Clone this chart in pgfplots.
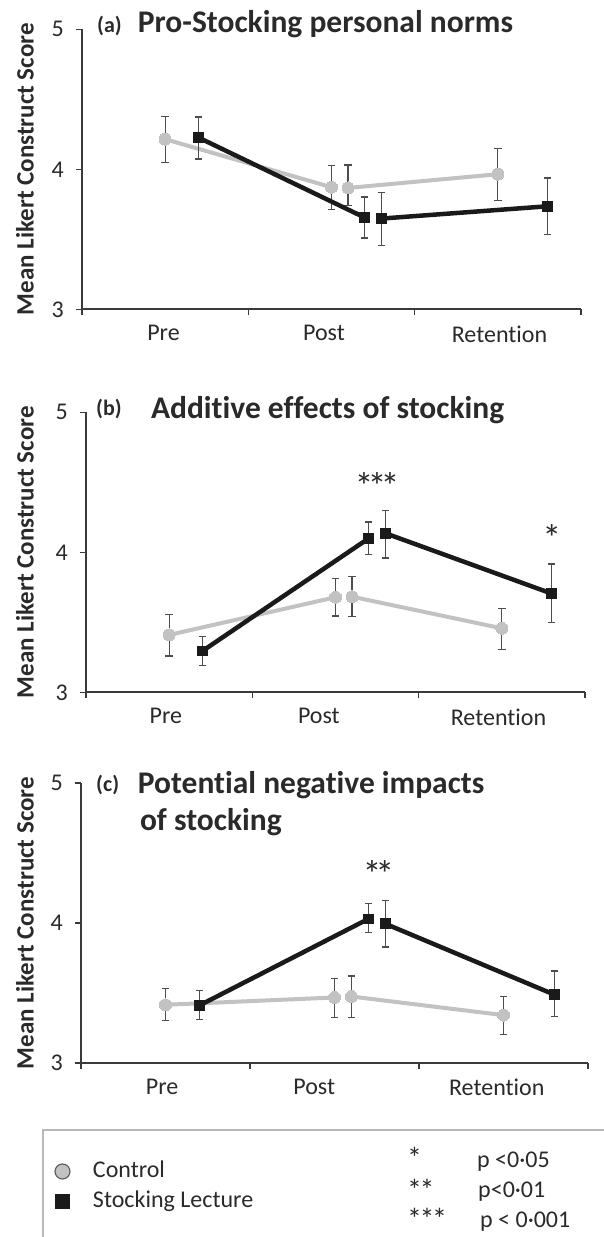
\documentclass[border=0pt]{standalone}
\usepackage{pgfplots}
\usepackage{pgfplotstable}
\pgfplotsset{compat=1.18}
\usepackage{fontspec}
\setmainfont{Carlito}[Ligatures=NoCommon]

\definecolor{ctrl}{HTML}{C2C2C2}
\definecolor{stk}{HTML}{1A1A1A}
\definecolor{axc}{HTML}{3A3A3A}
\definecolor{errc}{HTML}{4D4D4D}
\definecolor{boxc}{HTML}{B8B8B8}
\definecolor{txt}{HTML}{2A2A2A}

% panel (a)
\pgfplotstableread{
x y ep em
0.5 4.215 0.163 0.164
1.5 3.872 0.155 0.157
1.55 nan 0 0
1.6 3.867 0.164 0.126
2.5 3.965 0.186 0.186
}\actrl
\pgfplotstableread{
x y ep em
0.7 4.227 0.146 0.153
1.7 3.655 0.148 0.146
1.75 nan 0 0
1.8 3.648 0.186 0.191
2.8 3.736 0.202 0.200
}\astk
% panel (b)
\pgfplotstableread{
x y ep em
0.5 3.410 0.147 0.150
1.5 3.679 0.135 0.134
1.55 nan 0 0
1.6 3.683 0.146 0.143
2.5 3.457 0.141 0.150
}\bctrl
\pgfplotstableread{
x y ep em
0.7 3.295 0.105 0.105
1.7 4.100 0.117 0.114
1.75 nan 0 0
1.8 4.136 0.162 0.176
2.8 3.705 0.212 0.205
}\bstk
% panel (c)
\pgfplotstableread{
x y ep em
0.5 3.416 0.118 0.114
1.5 3.468 0.138 0.143
1.55 nan 0 0
1.6 3.475 0.147 0.150
2.5 3.342 0.133 0.138
}\cctrl
\pgfplotstableread{
x y ep em
0.7 3.411 0.107 0.102
1.7 4.029 0.111 0.098
1.75 nan 0 0
1.8 3.995 0.164 0.166
2.8 3.489 0.169 0.156
}\cstk

\pgfplotsset{
  panel/.style={
    scale only axis, anchor=south west, height=280pt,
    xmin=0, xmax=3, ymin=3, ymax=5,
    axis x line*=bottom, axis y line*=left,
    axis line style={axc, line width=2pt},
    xticklabels={Pre,Post,Retention},
    minor xtick={0,1,2,3},
    ytick={3,4,5}, minor ytick={3,4,5},
    major tick length=0pt, minor tick length=6pt,
    tick align=outside,
    minor tick style={axc, line width=1.6pt},
    /pgf/number format/assume math mode=true,
    tick label style={font=\fontsize{24}{28}\selectfont, text=txt},
    xticklabel style={anchor=north, inner sep=0pt, yshift=-16pt},
    yticklabel style={anchor=east, inner sep=0pt, xshift=-18pt},
    clip=false,
  },
  ctrlline/.style={ctrl, line width=4pt, unbounded coords=jump, no marks, forget plot},
  stkline/.style={stk, line width=4.5pt, unbounded coords=jump, no marks, forget plot},
  ctrlmark/.style={only marks, forget plot, mark=*, mark size=6pt,
    mark options={fill=ctrl, draw=ctrl, line width=0pt},
    error bars/.cd, y dir=both, y explicit,
    error bar style={errc, line width=1.3pt},
    error mark options={errc, rotate=90, mark size=3.7pt, line width=1.3pt}},
  stkmark/.style={only marks, forget plot, mark=square*, mark size=4.8pt,
    mark options={fill=stk, draw=stk, line width=0pt},
    error bars/.cd, y dir=both, y explicit,
    error bar style={errc, line width=1.3pt},
    error mark options={errc, rotate=90, mark size=3.7pt, line width=1.3pt}},
}
\tikzset{
  ylab/.style={rotate=90, font=\bfseries\fontsize{25}{30}\selectfont, text=txt},
  ttl/.style={anchor=base west, inner sep=0pt, font=\bfseries\fontsize{31.5}{36}\selectfont, text=txt},
  tag/.style={anchor=base west, inner sep=0pt, font=\bfseries\fontsize{22}{26}\selectfont, text=txt},
  star/.style={anchor=base, inner sep=0pt, font=\fontsize{38}{40}\selectfont, text=txt},
  keystar/.style={anchor=base west, inner sep=0pt, font=\fontsize{30}{32}\selectfont, text=txt},
}
\newcommand\sk{\kern-6pt}
\newcommand\ks{\kern-2.5pt}

\begin{document}
\begin{tikzpicture}
\useasboundingbox (0pt,0pt) rectangle (603pt,-1237pt);

% ---------- (a)
\begin{axis}[panel, at={(82pt,-309.3pt)}, width=499pt, xtick={0.49,1.455,2.51}]
\addplot[ctrlline] table[x=x,y=y] {\actrl};
\addplot[ctrlmark] table[x=x,y=y,y error plus=ep,y error minus=em] {\actrl};
\addplot[stkline] table[x=x,y=y] {\astk};
\addplot[stkmark] table[x=x,y=y,y error plus=ep,y error minus=em] {\astk};
\node[ylab] at (axis description cs:-0.1142,0.5) {Mean Likert Construct Score};
\node[tag] at (axis description cs:0.030,0.987) {(a)};
\node[ttl] at (axis description cs:0.1116,0.987) {Pro-Stocking personal norms};
\end{axis}

% ---------- (b)
\begin{axis}[panel, at={(86pt,-692.3pt)}, width=499pt, xtick={0.48,1.40,2.48}]
\addplot[ctrlline] table[x=x,y=y] {\bctrl};
\addplot[ctrlmark] table[x=x,y=y,y error plus=ep,y error minus=em] {\bctrl};
\addplot[stkline] table[x=x,y=y] {\bstk};
\addplot[stkmark] table[x=x,y=y,y error plus=ep,y error minus=em] {\bstk};
\node[ylab] at (axis description cs:-0.1222,0.5) {Mean Likert Construct Score};
\node[tag] at (axis description cs:0.020,0.987) {(b)};
\node[ttl] at (axis description cs:0.130,0.979) {Additive effects of stocking};
\node[star] at (axis cs:1.75,4.374) {*\sk*\sk*};
\node[star] at (axis cs:2.80,4.004) {*};
\end{axis}

% ---------- (c)
\begin{axis}[panel, at={(81pt,-1063pt)}, width=507pt, xtick={0.48,1.38,2.46},
  legend cell align=left,
  legend style={at={(axis description cs:-0.0513,-0.441)}, anchor=west,
    draw=none, fill=none, inner sep=0pt, outer sep=0pt,
    font=\fontsize{24}{28}\selectfont, text=txt, row sep=6pt,
    nodes={inner sep=1pt, text height=17pt, text depth=5pt},
    /tikz/every odd column/.append style={column sep=22pt}},
]
\addplot[ctrlline] table[x=x,y=y] {\cctrl};
\addplot[ctrlmark] table[x=x,y=y,y error plus=ep,y error minus=em] {\cctrl};
\addplot[stkline] table[x=x,y=y] {\cstk};
\addplot[stkmark] table[x=x,y=y,y error plus=ep,y error minus=em] {\cstk};
\addlegendimage{only marks, mark=*, mark size=7.5pt, mark options={fill=ctrl, draw=axc!80, line width=1.2pt}}
\addlegendentry{Control}
\addlegendimage{only marks, mark=square*, mark size=7pt, mark options={fill=stk, draw=stk}}
\addlegendentry{Stocking Lecture}
\node[ylab] at (axis description cs:-0.1105,0.5) {Mean Likert Construct Score};
\node[tag] at (axis description cs:0.0296,0.971) {(c)};
\node[ttl] at (axis description cs:0.112,0.963) {Potential negative impacts};
\node[ttl] at (axis description cs:0.116,0.832) {of stocking};
\node[star] at (axis cs:1.76,4.257) {*\sk*};
\end{axis}

% ---------- legend box and significance key
\draw[boxc, line width=1.3pt] (43pt,-1260pt) |- (640pt,-1130pt);
\node[keystar] at (407pt,-1168.5pt) {*};
\node[keystar] at (407pt,-1200pt) {*\ks*};
\node[keystar] at (407pt,-1229pt) {*\ks*\ks*};
\begin{scope}[every node/.style={anchor=base west, inner sep=0pt, font=\fontsize{24}{28}\selectfont, text=txt}]
\node at (477pt,-1167pt) {p <0·05};
\node at (478pt,-1197.5pt) {p<0·01};
\node at (480pt,-1227pt) {p < 0·001};
\end{scope}
\end{tikzpicture}
\end{document}
